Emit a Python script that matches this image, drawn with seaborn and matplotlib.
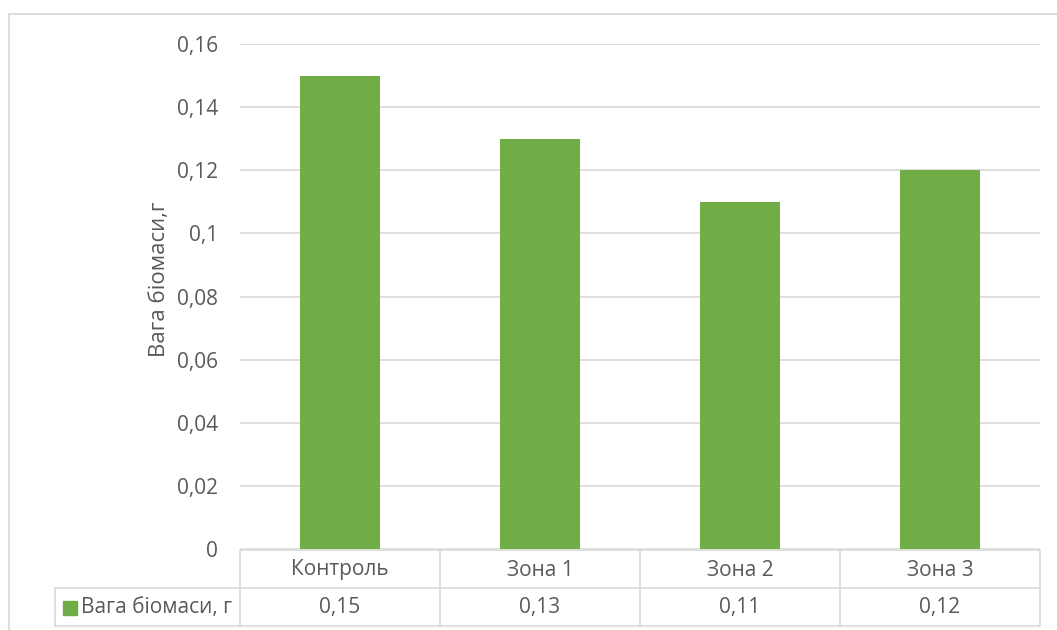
import matplotlib
matplotlib.use("Agg")
import matplotlib.pyplot as plt
import seaborn as sns
import pandas as pd
from matplotlib.patches import Rectangle
from matplotlib.lines import Line2D

categories = ["Контроль", "Зона 1", "Зона 2", "Зона 3"]
biomass = [0.15, 0.13, 0.11, 0.12]
series_name = "Вага біомаси, г"
y_title = "Вага біомаси,г"
y_ticks = [0, 0.02, 0.04, 0.06, 0.08, 0.1, 0.12, 0.14, 0.16]

def comma(v):
    s = f"{v:.2f}".rstrip("0").rstrip(".")
    return s.replace(".", ",")

sns.set_theme(style="white")
plt.rcParams["font.family"] = ["Open Sans", "DejaVu Sans"]

TEXT = "#595959"
GRID = "#d9d9d9"
GREEN = "#70AD47"
W, H = 1057, 630
FS = 15

df = pd.DataFrame({"cat": categories, "val": biomass})

fig = plt.figure(figsize=(W / 100, H / 100), dpi=100)
ax = fig.add_axes([240 / W, 1 - 549 / H, 800 / W, (549 - 44) / H])

sns.barplot(data=df, x="cat", y="val", color=GREEN, width=0.4, saturation=1,
            linewidth=0, ax=ax, zorder=3)
ax.set_xlim(-0.5, len(categories) - 0.5)
ax.set_ylim(0, 0.16)
ax.set_yticks(y_ticks)
ax.set_yticklabels([comma(t) for t in y_ticks], color=TEXT, fontsize=FS)
ax.tick_params(axis="y", length=0, pad=16)
ax.set_xticks([])
ax.set_xlabel("")
ax.set_ylabel(y_title, color=TEXT, fontsize=16)
ax.yaxis.set_label_coords((170 - 240) / 800, 0.534)
ax.grid(axis="y", color=GRID, linewidth=1.2, zorder=0)
for s in ax.spines.values():
    s.set_visible(False)

# chart frame
fig.patches.append(Rectangle((9 / W, -0.1), 1.2, 1 - 14 / H + 0.1,
                             transform=fig.transFigure, fill=False,
                             edgecolor=GRID, linewidth=1.3))

# data table under the axis
def fx(px):
    return px / W

def fy(py):
    return 1 - py / H

row_top, row_mid, row_bot = 550, 588, 626
col_edges = [240, 440, 640, 840, 1040]
lines = [((240, 1040), (row_top, row_top)),
         ((55, 1040), (row_mid, row_mid)),
         ((55, 1040), (row_bot, row_bot)),
         ((55, 55), (row_mid, row_bot))]
for x in col_edges:
    lines.append(((x, x), (row_top, row_bot)))
for (x0, x1), (y0, y1) in lines:
    fig.add_artist(Line2D([fx(x0), fx(x1)], [fy(y0), fy(y1)],
                          transform=fig.transFigure, color=GRID, linewidth=1.2))

for i, (c, v) in enumerate(zip(categories, biomass)):
    xc = (col_edges[i] + col_edges[i + 1]) / 2
    fig.text(fx(xc), fy(570), c, ha="center", va="center", color=TEXT, fontsize=FS)
    fig.text(fx(xc), fy(608), comma(v), ha="center", va="center", color=TEXT, fontsize=FS)

fig.add_artist(Rectangle((fx(63), fy(615)), 14 / W, 14 / H,
                         transform=fig.transFigure, color=GREEN))
fig.text(fx(81), fy(608), series_name, ha="left", va="center", color=TEXT, fontsize=FS)

fig.savefig("out.png", dpi=100, facecolor="white")
